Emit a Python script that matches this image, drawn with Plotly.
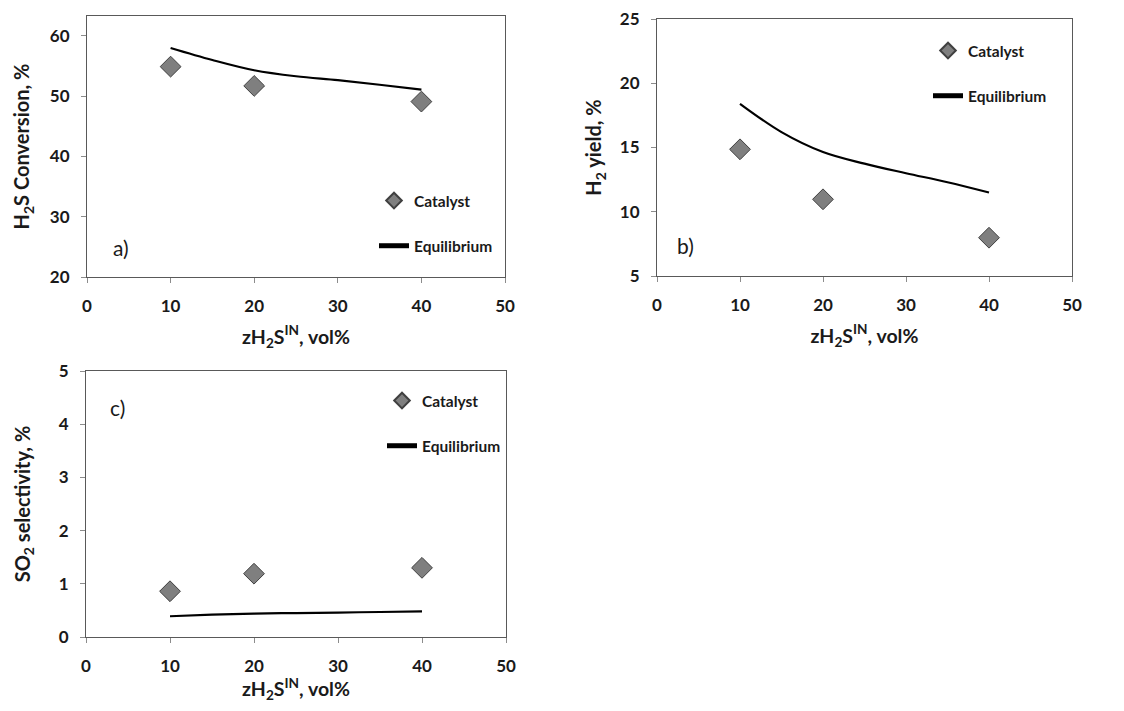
import plotly.graph_objects as go

# ---- data ----
x_cat = [10, 20, 40]
x_eq = [10, 15, 20, 25, 30, 35, 40]

conv_cat = [54.9, 51.7, 49.1]
conv_eq = [58.0, 56.0, 54.3, 53.3, 52.65, 51.9, 51.1]

yield_cat = [14.86, 10.97, 7.98]
yield_eq = [18.4, 16.2, 14.65, 13.74, 13.0, 12.3, 11.5]

sel_cat = [0.86, 1.19, 1.30]
sel_eq = [0.39, 0.42, 0.44, 0.45, 0.46, 0.47, 0.48]

x_ticks = [0, 10, 20, 30, 40, 50]
panel_labels = ["a)", "b)", "c)"]
y_titles = ["H<sub>2</sub>S Conversion, %", "H<sub>2</sub> yield, %", "SO<sub>2</sub> selectivity, %"]
x_title = "zH<sub>2</sub>S<sup>IN</sup>, vol%"

FONT = "Lato"
OFF = 8  # page body margin
W, H = 1124 - 2 * OFF, 711 - 2 * OFF

fig = go.Figure()

panels = [
    dict(xa="x", ya="y", leg="legend", cat=conv_cat, eq=conv_eq),
    dict(xa="x2", ya="y2", leg="legend2", cat=yield_cat, eq=yield_eq),
    dict(xa="x3", ya="y3", leg="legend3", cat=sel_cat, eq=sel_eq),
]

for i, p in enumerate(panels):
    fig.add_trace(go.Scatter(
        x=x_cat, y=p["cat"], mode="markers", name="Catalyst",
        marker=dict(symbol="diamond", size=16, color="#7f7f7f",
                    line=dict(color="#404040", width=1)),
        xaxis=p["xa"], yaxis=p["ya"], legend=p["leg"], legendgroup=f"c{i}",
    ))
    fig.add_trace(go.Scatter(
        x=x_eq, y=p["eq"], mode="lines", name="Equilibrium",
        line=dict(color="black", width=2.2, shape="spline"),
        xaxis=p["xa"], yaxis=p["ya"], legend=p["leg"], legendgroup=f"e{i}",
    ))

def px_x(v):
    return (v - OFF) / W

def px_y(v):
    return 1 - (v - OFF) / H

# x domain, y domain, y range, y ticks, y-title standoff
domains = [
    ([px_x(87), px_x(505)], [px_y(277), px_y(16)], [20, 63.3], [20, 30, 40, 50, 60], 14),
    ([px_x(657), px_x(1072)], [px_y(276), px_y(19)], [5, 25], [5, 10, 15, 20, 25], 12),
    ([px_x(86), px_x(506)], [px_y(637), px_y(371)], [0, 5], [0, 1, 2, 3, 4, 5], 22),
]

axis_common = dict(
    showgrid=False, zeroline=False, showline=True, linecolor="#595959", linewidth=1,
    mirror=True, ticks="outside", ticklen=5, tickcolor="#8c8c8c", automargin=False,
    ticklabeloverflow="allow",
    tickfont=dict(family=FONT, size=17, color="#1a1a1a", weight="bold"),
)

layout = {}
for i, (xd, yd, yr, yt, ystand) in enumerate(domains):
    sx = "" if i == 0 else str(i + 1)
    layout[f"xaxis{sx}"] = dict(
        domain=xd, range=[0, 50], tickvals=x_ticks, anchor=f"y{sx}",
        ticklabelstandoff=9,
        title=dict(text=x_title, standoff=14,
                   font=dict(family=FONT, size=19.5, color="#1a1a1a", weight="bold")),
        **axis_common)
    layout[f"yaxis{sx}"] = dict(
        domain=yd, range=yr, tickvals=yt, anchor=f"x{sx}",
        ticklabelstandoff=8,
        title=dict(text=y_titles[i], standoff=ystand,
                   font=dict(family=FONT, size=20, color="#1a1a1a", weight="bold")),
        **axis_common)

legend_common = dict(
    font=dict(family=FONT, size=15.5, color="#1a1a1a", weight="bold"),
    bgcolor="rgba(0,0,0,0)", tracegroupgap=22, itemwidth=30,
    traceorder="grouped", xanchor="left", yanchor="top", itemsizing="constant",
)
layout["legend"] = dict(x=px_x(374), y=px_y(184), **legend_common)
layout["legend2"] = dict(x=px_x(928), y=px_y(34), **legend_common)
layout["legend3"] = dict(x=px_x(382), y=px_y(384), **legend_common)

fig.update_layout(
    width=W, height=H, margin=dict(l=0, r=0, t=0, b=0),
    plot_bgcolor="white", paper_bgcolor="white", showlegend=True,
    **layout,
)

label_pos = [("x", "y", 4.1, 24.9), ("x2", "y2", 3.4, 7.35), ("x3", "y3", 3.8, 4.32)]
for lab, (xr, yr, xv, yv) in zip(panel_labels, label_pos):
    fig.add_annotation(text=lab, x=xv, y=yv, xref=xr, yref=yr, showarrow=False,
                       font=dict(family=FONT, size=21, color="#1a1a1a"))

fig.write_html("out.html")
